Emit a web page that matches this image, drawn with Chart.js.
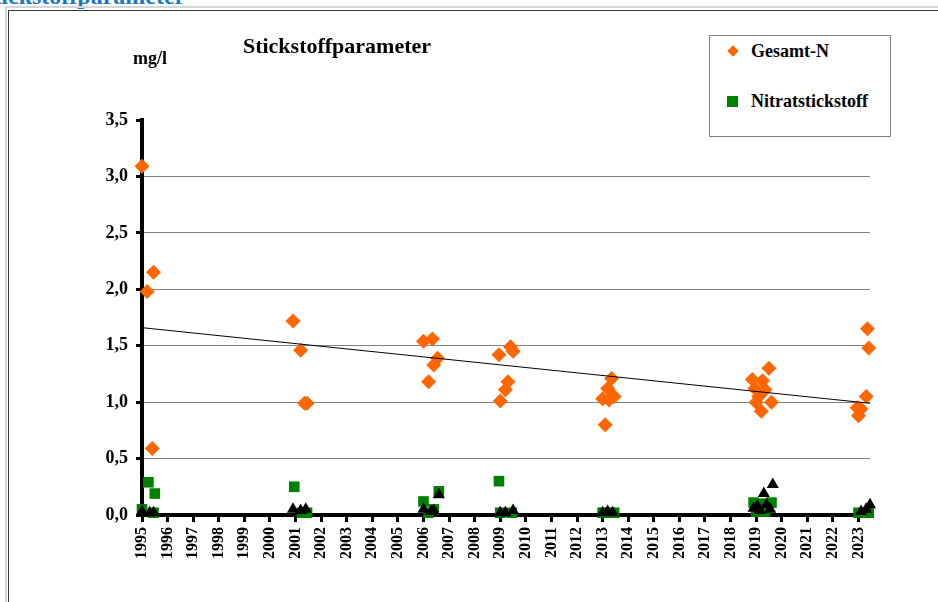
<!DOCTYPE html>
<html>
<head>
<meta charset="utf-8">
<script src="https://cdn.jsdelivr.net/npm/chart.js@4.4.1/dist/chart.umd.min.js"></script>
<style>
  html, body { margin: 0; padding: 0; background: #fff; overflow: hidden; }
  body { width: 938px; height: 602px; position: relative; font-family: "Liberation Serif", "Times New Roman", serif; }
  .heading { position: absolute; left: -20px; top: -16px; font-size: 24px; line-height: 24px; font-weight: bold; color: #1c77c3; white-space: nowrap; }
  .frame1 { position: absolute; left: 5px; top: 6px; width: 940px; height: 610px; border-left: 2px solid #d6d6d6; border-top: 2px solid #d6d6d6; }
  .frame2 { position: absolute; left: 8px; top: 10px; width: 929px; height: 610px; border-left: 1px solid #3a3a3a; border-top: 1px solid #3a3a3a; }
  #chart { position: absolute; left: 0; top: 0; }
  .title { position: absolute; left: 237px; width: 200px; top: 35px; text-align: center; font-size: 22px; line-height: 22px; font-weight: bold; white-space: nowrap; }
  .unit { position: absolute; left: 133px; top: 49px; font-size: 18px; line-height: 18px; font-weight: bold; }
  .legend { position: absolute; left: 709px; top: 35px; width: 180px; height: 100px; border: 1px solid #7f7f7f; background: #fff; }
  .legend .txt { position: absolute; left: 41px; font-size: 18px; line-height: 18px; font-weight: bold; white-space: nowrap; }
  .legend .mk { position: absolute; }
</style>
</head>
<body>
<div class="heading">Stickstoffparameter</div>
<div class="frame1"></div>
<div class="frame2"></div>
<canvas id="chart" width="938" height="602"></canvas>
<div class="title">Stickstoffparameter</div>
<div class="unit">mg/l</div>
<div class="legend" id="legend"></div>

<script>
// Gesamt-N (orange diamonds)
const gesamtYears = [1995.0, 1995.2, 1995.45, 1995.4, 2000.9, 2001.2, 2001.35, 2001.45,
  2006.0, 2006.35, 2006.55, 2006.4, 2006.2,
  2008.95, 2009.4, 2009.5, 2009.3, 2009.2, 2009.0,
  2013.35, 2013.2, 2013.0, 2013.25, 2013.45, 2013.1,
  2019.5, 2018.85, 2019.25, 2018.95, 2019.35, 2019.0, 2019.6, 2019.2, 2019.1,
  2023.35, 2023.4, 2023.3, 2022.95, 2023.1, 2023.0];
const gesamtN = [3.09, 1.98, 2.15, 0.59, 1.72, 1.46, 0.99, 0.99,
  1.54, 1.56, 1.39, 1.33, 1.18,
  1.42, 1.49, 1.45, 1.18, 1.11, 1.01,
  1.21, 1.12, 1.03, 1.02, 1.05, 0.80,
  1.30, 1.20, 1.19, 1.12, 1.11, 1.00, 1.00, 0.92, 1.05,
  1.65, 1.48, 1.05, 0.95, 0.94, 0.88];

// Nitratstickstoff (green squares)
const nitratYears = [1995.0, 1995.25, 1995.5, 1995.45, 2000.95, 2001.25, 2001.45,
  2006.0, 2006.4, 2006.6, 2006.2, 2008.95, 2009.0, 2009.45,
  2013.0, 2013.2, 2013.45, 2018.9, 2019.2, 2019.6, 2019.0, 2019.35, 2023.0, 2023.4];
const nitrat = [0.05, 0.29, 0.19, 0.02, 0.25, 0.02, 0.02,
  0.12, 0.05, 0.21, 0.02, 0.30, 0.02, 0.02,
  0.02, 0.02, 0.02, 0.11, 0.10, 0.11, 0.03, 0.03, 0.02, 0.02];

// third series, black triangles (not in legend)
const thirdYears = [1995.0, 1995.3, 1995.45, 2000.9, 2001.2, 2001.4,
  2006.0, 2006.3, 2006.4, 2006.6, 2009.0, 2009.2, 2009.5,
  2013.0, 2013.2, 2013.4,
  2018.9, 2019.05, 2019.15, 2019.3, 2019.4, 2019.55, 2019.65,
  2023.1, 2023.3, 2023.45];
const third = [0.03, 0.02, 0.02, 0.05, 0.04, 0.05,
  0.05, 0.03, 0.04, 0.18, 0.02, 0.02, 0.04,
  0.02, 0.03, 0.02,
  0.06, 0.08, 0.04, 0.19, 0.09, 0.05, 0.27,
  0.03, 0.05, 0.09];

// linear trend of Gesamt-N, end points
const trendYears = [1995, 2023.45];
const trend = [1.66, 0.99];

const yearTicks = [];
for (let y = 1995; y <= 2023; y++) yearTicks.push(y);
const yTicks = [0, 0.5, 1, 1.5, 2, 2.5, 3, 3.5];

const pts = (xs, ys) => xs.map((x, i) => ({ x: x, y: ys[i] }));
const font = 'Liberation Serif';

const chart = new Chart(document.getElementById('chart'), {
  type: 'scatter',
  data: {
    datasets: [
      {
        label: '',
        data: pts(thirdYears, third),
        pointStyle: 'triangle',
        pointRadius: 7,
        backgroundColor: '#000000',
        borderWidth: 0,
        clip: false,
        order: 0
      },
      {
        label: 'Nitratstickstoff',
        data: pts(nitratYears, nitrat),
        pointStyle: 'rect',
        pointRadius: 7.5,
        backgroundColor: '#008000',
        borderWidth: 0,
        clip: false,
        order: 1
      },
      {
        label: 'Trend',
        data: pts(trendYears, trend),
        showLine: true,
        borderColor: '#000000',
        borderWidth: 1,
        pointRadius: 0,
        clip: false,
        order: 2
      },
      {
        label: 'Gesamt-N',
        data: pts(gesamtYears, gesamtN),
        pointStyle: 'rectRot',
        pointRadius: 7.5,
        backgroundColor: '#FF6600',
        borderWidth: 0,
        clip: false,
        order: 3
      }
    ]
  },
  options: {
    responsive: false,
    animation: false,
    events: [],
    layout: {
      padding: { left: 90, right: 68, top: 120, bottom: 27 }
    },
    plugins: {
      legend: { display: false },
      tooltip: { enabled: false },
      title: { display: false }
    },
    scales: {
      x: {
        type: 'linear',
        min: 1995,
        max: 2023.45,
        afterFit: (scale) => { scale.height = 60; },
        afterBuildTicks: (scale) => { scale.ticks = yearTicks.map(v => ({ value: v })); },
        border: { color: '#000000', width: 4 },
        grid: {
          drawOnChartArea: false,
          drawTicks: true,
          tickLength: 7,
          tickWidth: 3,
          tickColor: '#000000'
        },
        ticks: {
          autoSkip: false,
          includeBounds: false,
          minRotation: 90,
          maxRotation: 90,
          padding: 5,
          color: '#000000',
          font: { family: font, size: 16, weight: 'bold' },
          callback: (v) => String(v)
        }
      },
      y: {
        min: 0,
        max: 3.5,
        afterFit: (scale) => { scale.width = 52; },
        afterBuildTicks: (scale) => { scale.ticks = yTicks.map(v => ({ value: v })); },
        border: { color: '#000000', width: 4 },
        grid: {
          color: (c) => (c.tick && c.tick.value === 3.5) ? 'rgba(0,0,0,0)' : '#808080',
          lineWidth: 1,
          drawTicks: true,
          tickLength: 6,
          tickWidth: 3,
          tickColor: '#000000'
        },
        ticks: {
          padding: 8,
          color: '#000000',
          font: { family: font, size: 18, weight: 'bold' },
          callback: (v) => v.toFixed(1).replace('.', ',')
        }
      }
    }
  }
});

// legend box with the two named series
const legendBox = document.getElementById('legend');
const legendItems = [
  { label: chart.data.datasets[3].label, color: '#FF6600', shape: 'diamond', cy: 15 },
  { label: chart.data.datasets[1].label, color: '#008000', shape: 'square', cy: 65 }
];
legendItems.forEach(item => {
  const mk = document.createElement('div');
  mk.className = 'mk';
  if (item.shape === 'diamond') {
    mk.style.cssText = 'left:19px;top:' + (item.cy - 4) + 'px;width:8px;height:8px;transform:rotate(45deg);background:' + item.color;
  } else {
    mk.style.cssText = 'left:17px;top:' + (item.cy - 5) + 'px;width:11px;height:11px;background:' + item.color;
  }
  legendBox.appendChild(mk);
  const t = document.createElement('div');
  t.className = 'txt';
  t.style.top = (item.cy - 9) + 'px';
  t.textContent = item.label;
  legendBox.appendChild(t);
});
</script>
</body>
</html>
